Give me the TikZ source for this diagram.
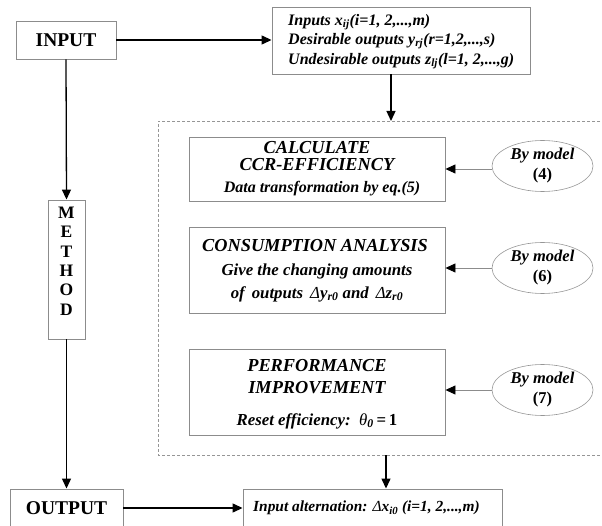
\documentclass[tikz,border=0pt]{standalone}
\usepackage{fontspec}
\setmainfont{Liberation Serif}
\usetikzlibrary{arrows.meta,shapes.geometric}
\definecolor{boxgray}{RGB}{140,140,140}
\definecolor{dashgray}{RGB}{150,150,150}
\newcommand{\sbs}[1]{\textsubscript{#1}}
\begin{document}
\begin{tikzpicture}[x=1pt,y=-1pt,
  box/.style={draw=boxgray, line width=0.9pt, inner sep=0pt, rectangle},
  ell/.style={draw=dashgray, line width=0.6pt, ellipse, minimum width=101pt, minimum height=51pt, inner sep=0pt},
  main/.style={line width=1.3pt, -{Triangle[length=10pt,width=9pt]}},
  elink/.style={draw=boxgray, line width=0.9pt, -{Triangle[length=10pt,width=9pt,color=black]}},
  bigf/.style={font=\fontsize{19.5}{22}\selectfont\bfseries},
  hdf/.style={font=\fontsize{18.3}{18}\selectfont\bfseries\itshape},
  txf/.style={font=\fontsize{16.8}{17}\selectfont\bfseries\itshape},
  dtf/.style={font=\fontsize{16}{17}\selectfont\bfseries\itshape},
  inf/.style={font=\fontsize{16}{18}\selectfont\bfseries\itshape},
  altf/.style={font=\fontsize{15.4}{17}\selectfont\bfseries\itshape},
  ef/.style={font=\fontsize{16.5}{20}\selectfont\bfseries},
  mf/.style={font=\fontsize{17.5}{20}\selectfont\bfseries}]
\useasboundingbox (0,0) rectangle (602,526);
\clip (0,0) rectangle (602,526);

% dashed frame
\draw[dashgray, line width=0.8pt, dash pattern=on 3pt off 2pt] (640,121) -- (158,121) -- (158,455) -- (640,455);
\coordinate (dtop) at (391,121);
\coordinate (dbot) at (386,455);

% left column
\node[box, minimum width=100pt, minimum height=38pt, bigf] (inp) at (66,40) {INPUT};
\node[box, minimum width=37pt, minimum height=139pt] (meth) at (66.5,269.5) {};
\foreach \l/\yy in {M/213,E/232,T/252,H/271,O/290,D/310}
  \node[mf, inner sep=0pt] (m\l) at (66.5,\yy) {\l};
\node[box, minimum width=113pt, minimum height=38pt, bigf] (outp) at (66.5,508) {OUTPUT};

% inputs box
\node[box, minimum width=258pt, minimum height=67pt] (data) at (401,40.5) {};
\node[inf, anchor=west, inner sep=0pt] (d1) at (288,22) {Inputs x\sbs{ij}(i=1, 2,...,m)};
\node[inf, anchor=west, inner sep=0pt] (d2) at (288,41) {Desirable outputs y\sbs{rj}(r=1,2,...,s)};
\node[inf, anchor=west, inner sep=0pt] (d3) at (288,61) {Undesirable outputs z\sbs{lj}(l=1, 2,...,g)};

% step boxes
\node[box, minimum width=256pt, minimum height=64pt] (calc) at (317,169) {};
\node[hdf, inner sep=0pt] (c1) at (317,148) {CALCULATE};
\node[hdf, inner sep=0pt] (c2) at (317,164.5) {CCR-EFFICIENCY};
\node[dtf, inner sep=0pt] (c3) at (322,189) {Data transformation by eq.(5)};

\node[box, minimum width=256pt, minimum height=86pt] (cons) at (317,270) {};
\node[hdf, inner sep=0pt] (s1) at (315,246) {CONSUMPTION ANALYSIS};
\node[txf, inner sep=0pt] (s2) at (317,271) {Give the changing amounts};
\node[txf, inner sep=0pt] (s3) at (317,294) {of\, outputs\, {\mdseries Δ}y\sbs{r0} and\, {\mdseries Δ}z\sbs{r0}};

\node[box, minimum width=256pt, minimum height=86pt] (perf) at (317,392) {};
\node[hdf, inner sep=0pt] (p1) at (317,366) {PERFORMANCE};
\node[hdf, inner sep=0pt] (p2) at (317,388) {IMPROVEMENT};
\node[txf, inner sep=0pt] (p3) at (317,421) {Reset efficiency:\, {\mdseries θ}\sbs{0}{\upshape\,=\,1}};

% ellipses
\node[ell, align=center, ef] (e1) at (542.5,166) {\itshape By model\\(4)};
\node[ell, align=center, ef] (e2) at (542.5,268) {\itshape By model\\(6)};
\node[ell, align=center, ef] (e3) at (542.5,390) {\itshape By model\\(7)};

% output box
\node[box, minimum width=259pt, minimum height=38pt] (alt) at (372.5,508) {};
\node[altf, anchor=west, inner sep=0pt] (a1) at (253,508) {Input alternation: {\mdseries Δ}x\sbs{i0} (i=1, 2,...,m)};

% connectors
\draw[main] (inp.east) -- (data.west |- inp.east);
\draw[main] (inp.south) -- (meth.north);
\draw[main] (meth.south) -- (outp.north);
\draw[main] (data.south -| dtop) -- (dtop);
\draw[main] (dbot) -- (alt.north -| dbot);
\draw[main] (outp.east) -- (alt.west |- outp.east);
\draw[elink] (e1.west |- 0,169) -- (calc.east |- 0,169);
\draw[elink] (e2.west) -- (cons.east |- e2.west);
\draw[elink] (e3.west) -- (perf.east |- e3.west);
\end{tikzpicture}
\end{document}
